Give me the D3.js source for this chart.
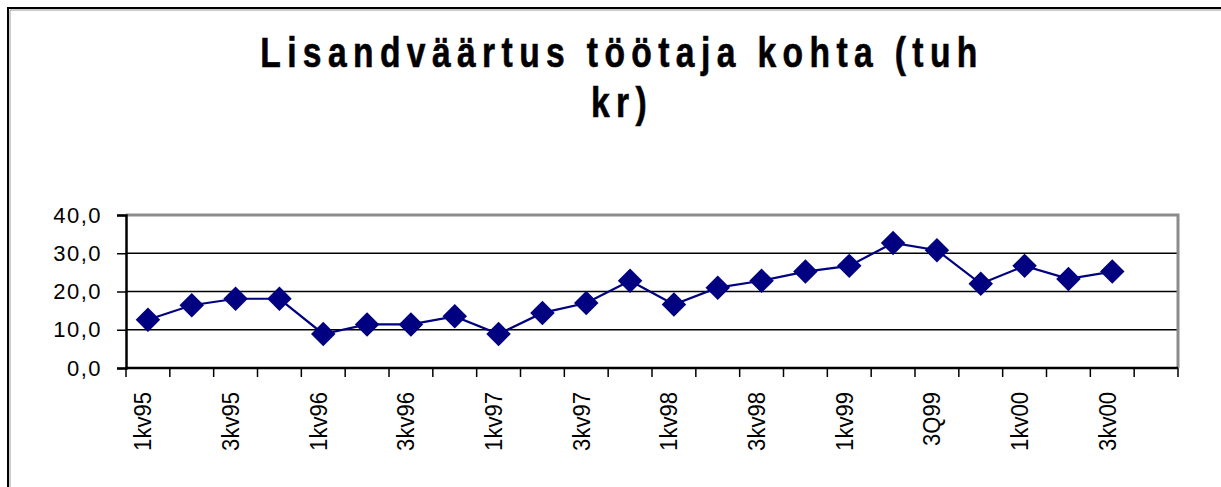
<!DOCTYPE html>
<html>
<head>
<meta charset="utf-8">
<script src="https://cdn.jsdelivr.net/npm/d3@7"></script>
<style>
  body { margin: 0; background: #fff; }
  svg { display: block; }
  text { font-family: Arial, "Liberation Sans", sans-serif; }
</style>
</head>
<body>
<div id="chart"></div>
<script>
// データ
const title = ["Lisandväärtus töötaja kohta (tuh", "kr)"];
const quarters = ["1kv95", "2kv95", "3kv95", "4kv95", "1kv96", "2kv96", "3kv96", "4kv96",
                  "1kv97", "2kv97", "3kv97", "4kv97", "1kv98", "2kv98", "3kv98", "4kv98",
                  "1kv99", "2kv99", "3Q99", "4kv99", "1kv00", "2kv00", "3kv00", "4kv00"];
const values = [12.6, 16.4, 18.1, 18.1, 8.9, 11.4, 11.4, 13.5,
                8.9, 14.4, 17.0, 22.8, 16.6, 21.0, 22.8, 25.2,
                26.7, 32.7, 30.8, 22.0, 26.7, 23.3, 25.2];
const yTicks = [0, 10, 20, 30, 40];
// 表示するラベル（1つおき）
const shownLabels = ["1kv95", "3kv95", "1kv96", "3kv96", "1kv97", "3kv97", "1kv98", "3kv98",
                     "1kv99", "3Q99", "1kv00", "3kv00"];

function chart() {
  const W = 1221, H = 487;
  const margin = { top: 215, right: 43, bottom: 119, left: 126 };
  const width = W - margin.left - margin.right;
  const height = H - margin.top - margin.bottom;

  const svg = d3.select("#chart").append("svg")
      .attr("width", W)
      .attr("height", H);

  // 外枠
  svg.append("path")
      .attr("d", `M8,${H + 5} V8 H${W + 5}`)
      .attr("fill", "none").attr("stroke", "#000").attr("stroke-width", 2);
  svg.append("path")
      .attr("d", `M10,${H + 5} V10 H${W + 5}`)
      .attr("fill", "none").attr("stroke", "#999").attr("stroke-width", 1);

  // タイトル
  svg.selectAll("text.title")
      .data(title)
      .enter().append("text")
      .attr("class", "title")
      .attr("transform", (d, i) => `translate(622,${67 + i * 50}) scale(0.8,1)`)
      .attr("text-anchor", "middle")
      .style("font-size", "42px")
      .style("font-weight", "bold")
      .style("letter-spacing", "8px")
      .attr("stroke", "#000").attr("stroke-width", 0.6)
      .text(d => d);

  const g = svg.append("g")
      .attr("transform", `translate(${margin.left},${margin.top})`);

  const x = d3.scaleBand().domain(quarters).range([0, width]);
  const y = d3.scaleLinear().domain([0, 40]).range([height, 0]);

  // グリッド線
  g.selectAll("line.grid")
      .data(yTicks.filter(t => t > 0 && t < 40))
      .enter().append("line")
      .attr("x1", 0).attr("x2", width)
      .attr("y1", d => y(d)).attr("y2", d => y(d))
      .attr("stroke", "#000").attr("stroke-width", 1.5);

  // プロットエリア枠（上・右）
  g.append("path")
      .attr("d", `M0,${y(40)} H${width} V${height}`)
      .attr("fill", "none").attr("stroke", "#8c8c8c").attr("stroke-width", 3);

  // Y軸
  const yAxis = g.append("g")
      .call(d3.axisLeft(y).tickValues(yTicks).tickSize(9).tickPadding(15)
        .tickFormat(d => d3.format(".1f")(d).replace(".", ",")));
  yAxis.select(".domain").attr("stroke-width", 2.5);
  yAxis.selectAll(".tick line").attr("stroke-width", 1.5);
  yAxis.selectAll(".tick text")
      .style("font-size", "22px")
      .style("letter-spacing", "1.5px")
      .attr("fill", "#000");

  // X軸（目盛りはカテゴリ境界）
  const boundaries = d3.range(quarters.length + 1).map(i => i * x.step());
  g.append("line")
      .attr("x1", 0).attr("x2", width)
      .attr("y1", height).attr("y2", height)
      .attr("stroke", "#000").attr("stroke-width", 2.5);
  g.selectAll("line.xtick")
      .data(boundaries)
      .enter().append("line")
      .attr("x1", d => d).attr("x2", d => d)
      .attr("y1", height).attr("y2", height + 9)
      .attr("stroke", "#000").attr("stroke-width", 1.5);

  g.selectAll("text.xlabel")
      .data(shownLabels)
      .enter().append("text")
      .attr("class", "xlabel")
      .attr("transform", d => `translate(${x(d) + x.bandwidth() / 2 - 5},${height + 24}) rotate(-90) scale(0.92,1)`)
      .attr("text-anchor", "end")
      .attr("dy", "0.35em")
      .style("font-size", "24px")
      .text(d => d);

  // 折れ線
  const pts = values.map((v, i) => ({ q: quarters[i], v: v }));
  const line = d3.line()
      .x(d => x(d.q) + x.bandwidth() / 2)
      .y(d => y(d.v));

  g.append("path")
      .datum(pts)
      .attr("d", line)
      .attr("fill", "none")
      .attr("stroke", "#000080")
      .attr("stroke-width", 2.2);

  // マーカー（ひし形）
  g.selectAll("path.marker")
      .data(pts)
      .enter().append("path")
      .attr("class", "marker")
      .attr("d", d3.symbol(d3.symbolSquare, 300))
      .attr("transform", d => `translate(${x(d.q) + x.bandwidth() / 2},${y(d.v)}) rotate(45)`)
      .attr("fill", "#000080");
}
chart();
</script>
</body>
</html>
